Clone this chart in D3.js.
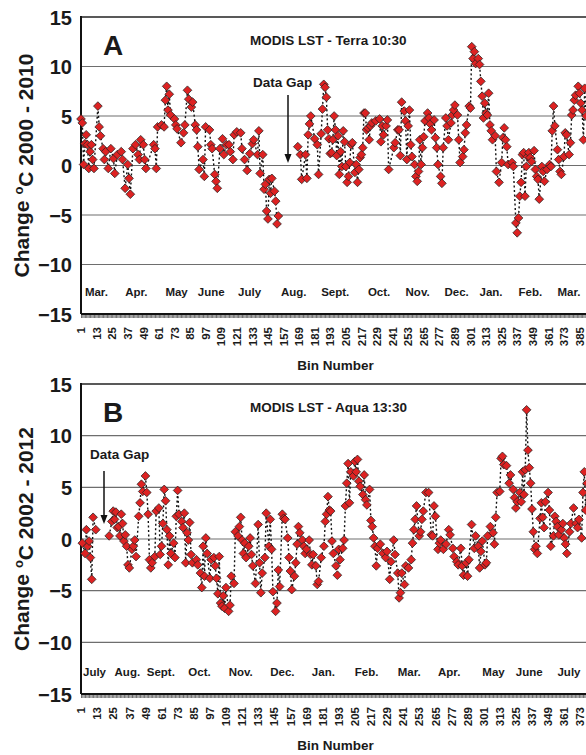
<!DOCTYPE html>
<html>
<head>
<meta charset="utf-8">
<script src="https://cdn.jsdelivr.net/npm/d3@7"></script>
<style>
  body { margin: 0; background: #fff; }
  svg text { font-family: "Liberation Sans", Arial, sans-serif; font-weight: bold; fill: #1a1a1a; }
</style>
</head>
<body>
<div id="chart"></div>
<script>
// [bin, change degC]
const terraPoints = [
  [1,4.7],[2,4.3],[3,0.1],[4,2.2],[5,3.1],[6,2.1],[7,-0.3],[8,1.4],[9,2.1],[10,0.6],[11,-0.3],
  [14,6.0],[15,3.9],[16,3.0],[18,1.7],[19,0.6],[20,1.4],[22,-0.3],[24,1.7],[26,0.7],[27,-0.8],
  [29,1.1],[32,1.4],[33,0.6],[35,-2.3],[37,0.1],[38,-1.3],[39,-2.9],[41,1.7],[43,2.1],[45,1.1],
  [46,0.6],[47,2.6],[49,2.1],[50,0.6],[51,-0.3],[57,2.1],[58,1.7],[59,-0.3],[60,3.9],[63,4.1],
  [65,3.9],[66,6.6],[67,8.0],[68,5.6],[69,7.2],[70,5.1],[73,4.7],[74,4.1],[75,3.7],[78,2.3],
  [80,3.3],[81,4.1],[83,7.6],[84,6.7],[86,5.9],[87,6.4],[89,4.1],[90,3.6],[91,1.9],[92,-0.4],
  [95,0.6],[96,-1.1],[97,3.9],[100,3.6],[101,2.1],[102,1.7],[104,-0.9],[105,-1.6],[106,-2.3],
  [108,1.7],[110,2.7],[111,1.1],[113,2.1],[115,2.1],[116,1.4],[118,0.6],[119,3.1],[121,3.4],
  [124,3.3],[125,1.7],[127,0.6],[129,-0.5],[131,1.2],[133,2.2],[134,2.6],[137,1.1],[138,3.5],
  [139,-0.8],[141,1.1],[142,-2.4],[143,-1.9],[144,-4.6],[145,-5.4],[146,-1.4],[147,-2.8],
  [148,-1.3],[150,-2.6],[151,-3.6],[152,-5.9],[153,-5.1],
  [168,1.9],[170,1.1],[171,-1.4],[174,1.1],[175,-1.3],[176,3.1],[177,4.2],[178,5.0],[181,2.7],
  [183,2.1],[184,-0.9],[186,3.2],[187,5.7],[188,8.2],[189,7.9],[190,6.9],[191,3.6],[192,2.7],
  [193,1.2],[194,1.3],[195,2.6],[196,5.0],[197,3.6],[198,1.0],[199,3.0],[200,-0.9],[201,1.4],
  [202,-0.1],[203,3.5],[204,2.4],[205,-0.1],[206,-1.7],[207,-1.1],[208,0.3],[209,2.1],[210,2.3],
  [212,-0.7],[213,0.1],[214,-1.7],[215,-0.4],[216,0.8],[217,1.1],[218,1.8],[219,5.3],[220,5.3],
  [221,3.6],[222,3.8],[223,2.6],[224,4.0],[225,4.3],[228,4.5],[231,4.7],[232,2.4],[233,4.0],
  [234,3.1],[236,4.0],[237,4.6],[238,-0.4],[242,1.8],[243,2.3],[245,3.6],[246,3.6],[247,1.0],
  [248,6.4],[250,5.5],[251,4.5],[252,0.6],[253,4.0],[254,5.6],[255,2.1],[256,0.9],[258,0.1],
  [259,-1.1],[260,-1.6],[261,-0.6],[262,2.6],[263,0.1],[264,1.8],[265,2.9],[266,4.5],[268,5.3],
  [269,4.8],[270,4.2],[271,3.6],[273,4.6],[274,2.8],[275,1.8],[276,0.1],[278,-1.1],[279,-1.8],
  [280,1.8],[282,4.8],[283,4.0],[284,2.6],[286,4.3],[287,5.1],[288,5.6],[289,6.1],[291,5.1],
  [292,2.6],[293,0.3],[295,0.9],[296,1.6],[297,3.3],[298,4.1],[300,6.0],[301,5.8],[302,12.0],
  [303,10.8],[304,11.5],[305,10.3],[307,10.8],[308,10.2],[309,8.5],[310,7.0],[311,4.8],[312,6.3],
  [313,5.3],[314,5.1],[315,7.3],[316,4.1],[317,3.5],[318,2.6],[320,3.0],[321,-0.6],[323,-1.7],
  [325,0.3],[326,2.8],[327,3.8],[328,2.6],[329,1.9],[330,0.1],[333,0.3],[334,-0.1],[336,-5.8],
  [337,-6.8],[338,-5.3],[339,-3.1],[340,-1.7],[341,1.1],[342,1.3],[343,-3.1],[344,-0.1],
  [345,0.9],[346,1.3],[347,0.8],[348,0.4],[350,1.5],[351,-0.4],[352,-1.1],[353,-1.4],[354,-3.4],
  [356,-0.1],[357,-0.6],[358,-1.6],[360,-0.4],[362,0.1],[363,-0.1],[364,3.5],[365,6.0],[366,4.0],
  [368,1.6],[369,0.6],[370,-0.6],[371,-0.9],[373,0.9],[374,3.3],[375,3.1],[377,1.1],[378,2.3],
  [379,5.1],[380,5.6],[381,6.6],[382,7.1],[384,8.0],[385,7.3],[386,6.3],[387,5.6],[388,2.6],
  [389,7.8],[390,5.0]
];

const aquaPoints = [
  [2,-0.4],[4,-1.4],[5,0.9],[6,-0.7],[7,-0.2],[8,-1.8],[9,-3.9],[10,2.1],[12,0.9],
  [22,0.3],[24,1.7],[25,2.7],[26,1.9],[27,2.6],[28,1.1],[29,1.2],[30,0.3],[31,2.4],[32,1.5],
  [33,-0.2],[34,0.4],[35,-0.7],[36,-2.5],[37,-2.8],[39,-1.0],[40,-0.7],[41,-0.1],[42,-1.7],
  [44,2.2],[45,3.5],[46,5.3],[47,4.6],[49,6.1],[50,4.5],[51,2.4],[52,-2.0],[53,-2.8],[54,-2.3],
  [56,-1.7],[57,2.7],[59,3.0],[60,-1.5],[61,-0.7],[62,1.5],[63,4.8],[64,3.7],[65,0.9],[66,-2.5],
  [67,0.3],[68,-1.4],[70,-0.4],[71,-1.8],[72,2.2],[73,4.7],[74,2.4],[76,1.7],[77,1.1],[78,2.5],
  [79,-2.3],[80,0.6],[81,-0.1],[82,1.6],[83,-1.5],[84,-2.3],[87,-2.0],[88,-2.5],[90,-3.3],
  [91,-4.7],[92,-0.7],[93,-3.6],[94,0.1],[95,-1.4],[97,-3.8],[98,-2.0],[100,-1.8],[101,-2.6],
  [102,-3.8],[103,-5.3],[104,-1.7],[105,-6.2],[106,-6.5],[107,-5.5],[108,-6.7],[109,-4.7],
  [111,-7.0],[112,-6.4],[113,-3.6],[115,-4.3],[116,0.7],[118,0.3],[119,1.2],[120,2.1],[121,-0.1],
  [122,-1.4],[123,-0.4],[124,-1.8],[126,-0.7],[127,0.1],[128,-1.5],[129,-2.6],[131,-4.3],
  [133,1.4],[134,-2.3],[135,-5.2],[136,-3.3],[138,-1.8],[139,2.5],[141,-0.7],[142,1.9],[143,-1.0],
  [144,-5.1],[146,-7.0],[147,-6.2],[148,-3.0],[149,-4.6],[151,2.4],[152,2.0],[153,1.9],[155,0.1],
  [156,-1.8],[157,-3.1],[158,-4.9],[160,-3.6],[161,-2.3],[162,-0.5],[163,1.2],[164,0.6],
  [166,-0.1],[167,-0.7],[168,-1.4],[169,-1.0],[171,-0.1],[172,-1.5],[173,-2.5],[174,-1.5],
  [176,-2.6],[177,-4.4],[178,-4.1],[180,-1.8],[182,-0.7],[183,1.7],[184,2.4],[185,4.1],[186,2.8],
  [187,2.7],[188,-0.2],[189,-1.4],[191,-2.6],[192,-3.5],[193,-1.0],[194,-2.0],[196,-0.9],
  [197,-0.1],[198,3.2],[199,5.4],[200,7.3],[201,3.5],[202,6.5],[204,6.1],[205,7.5],[206,6.5],
  [207,7.7],[208,5.6],[209,5.1],[211,4.3],[212,6.2],[213,3.8],[214,3.3],[216,4.8],[217,1.8],
  [218,1.2],[219,0.1],[220,-0.7],[221,-2.6],[222,-0.9],[224,-0.5],[226,-1.4],[228,-1.8],
  [229,-1.2],[231,-3.9],[232,-2.2],[234,-0.1],[235,-1.5],[237,-3.3],[238,-5.7],[239,-5.2],
  [240,-3.3],[242,-4.4],[243,-2.6],[245,-2.8],[247,-2.0],[248,-0.4],[249,0.9],[250,1.9],
  [251,3.2],[253,0.3],[254,0.7],[255,1.9],[256,2.7],[258,4.5],[260,4.5],[262,0.4],[263,0.3],
  [264,3.2],[265,2.2],[267,-1.0],[268,-0.4],[269,-0.1],[271,-1.0],[273,-0.5],[275,0.9],[276,0.4],
  [278,-0.9],[279,-1.7],[281,-2.2],[282,-2.5],[284,-0.9],[285,-2.6],[286,-3.5],[288,-2.3],
  [289,-3.6],[290,-2.0],[292,1.4],[294,-0.9],[295,0.3],[297,-0.7],[298,-2.8],[299,-1.2],
  [300,-0.2],[302,-2.5],[303,-2.3],[304,0.3],[306,1.2],[308,0.6],[309,-0.5],[310,2.1],[311,4.5],
  [313,4.6],[314,7.8],[315,8.0],[316,7.2],[318,7.1],[320,5.4],[321,6.2],[323,4.8],[324,4.0],
  [325,3.0],[326,3.6],[328,4.5],[329,3.6],[330,6.5],[331,4.3],[332,6.7],[333,12.5],[334,8.6],
  [335,6.9],[336,5.4],[337,2.9],[338,0.7],[339,-1.0],[340,-0.7],[341,-1.4],[343,2.0],[344,3.5],
  [345,2.1],[346,1.1],[347,3.6],[349,4.5],[350,2.8],[351,-0.7],[353,0.3],[354,2.2],[355,1.7],
  [356,1.2],[357,0.4],[359,0.9],[360,1.5],[361,0.1],[362,-0.5],[363,-1.4],[365,0.7],[366,1.5],
  [368,3.0],[370,1.5],[371,1.1],[372,1.9],[374,0.1],[375,4.5],[376,6.5],[377,2.8],[378,5.4]
];

const terraMonths = ["Mar.","Apr.","May","June","July","Aug.","Sept.","Oct.","Nov.","Dec.","Jan.","Feb.","Mar."];
const terraMonthBins = [4,35,66,91,122,155,186,222,251,281,308,338,368];
const aquaMonths = ["July","Aug.","Sept.","Oct.","Nov.","Dec.","Jan.","Feb.","Mar.","Apr.","May","June","July"];
const aquaMonthBins = [2.5,26,50,81,111,142,173,205,237,267,300,325,356];

const terraTicks = d3.range(1, 386, 12);
const aquaTicks = d3.range(1, 374, 12);
const yTicks = [15, 10, 5, 0, -5, -10, -15];

const width = 586, height = 755;
const left = 81;

const svg = d3.select("#chart").append("svg")
  .attr("width", width)
  .attr("height", height);

const panels = [
  {
    letter: "A", title: "MODIS LST - Terra 10:30", years: "2000 - 2010",
    points: terraPoints, months: terraMonths, monthBins: terraMonthBins, ticks: terraTicks,
    maxBin: 390, right: 586, top: 17, bottom: 314,
    gapText: [253, 87], gapArrow: [288, 95, 163]
  },
  {
    letter: "B", title: "MODIS LST - Aqua 13:30", years: "2002 - 2012",
    points: aquaPoints, months: aquaMonths, monthBins: aquaMonthBins, ticks: aquaTicks,
    maxBin: 378, right: 587, top: 384, bottom: 694,
    gapText: [90, 459], gapArrow: [104, 471, 524]
  }
];

panels.forEach(drawPanel);

function drawPanel(p) {
  const x = d3.scaleLinear().domain([1, p.maxBin]).range([left, p.right]);
  const y = d3.scaleLinear().domain([-15, 15]).range([p.bottom, p.top]);
  const g = svg.append("g");

  // grid lines
  g.selectAll("line.grid")
    .data(yTicks.filter(v => v > -15))
    .enter().append("line")
      .attr("class", "grid")
      .attr("x1", left).attr("x2", width)
      .attr("y1", d => y(d)).attr("y2", d => y(d))
      .attr("stroke", d => d === 15 ? "#222" : "#6e6e6e")
      .attr("stroke-width", d => d === 15 ? 1.6 : 1.1);

  // y axis
  const yAxis = g.append("g")
    .attr("transform", `translate(${left},0)`)
    .call(d3.axisLeft(y).tickValues(yTicks).tickSize(0).tickPadding(9));
  yAxis.select(".domain").remove();
  yAxis.selectAll("text").style("font-size", "20px").attr("dy", "0.36em");

  g.append("line")
    .attr("x1", left).attr("x2", left)
    .attr("y1", p.top - 1).attr("y2", p.bottom)
    .attr("stroke", "#111").attr("stroke-width", 2);

  // minor ticks, one per bin
  g.append("g")
    .attr("transform", `translate(0,${p.bottom})`)
    .call(d3.axisBottom(x).tickValues(d3.range(1, p.maxBin + 1)).tickSize(4).tickFormat(""))
    .call(a => a.selectAll(".tick line").attr("stroke", "#4a4a4a").attr("stroke-width", 0.8))
    .call(a => a.select(".domain").remove());

  g.append("line")
    .attr("x1", left).attr("x2", width)
    .attr("y1", p.bottom).attr("y2", p.bottom)
    .attr("stroke", "#111").attr("stroke-width", 2.2);

  // bin labels
  const xAxis = g.append("g")
    .attr("transform", `translate(0,${p.bottom})`)
    .call(d3.axisBottom(x).tickValues(p.ticks).tickSize(0));
  xAxis.select(".domain").remove();
  xAxis.selectAll("text")
    .attr("transform", "rotate(-90)")
    .attr("x", -13).attr("y", 0).attr("dy", "0.32em")
    .style("text-anchor", "end")
    .style("font-size", "11.5px");

  g.append("text")
    .attr("x", (left + 590) / 2).attr("y", p.bottom + 56)
    .attr("text-anchor", "middle")
    .style("font-size", "13.5px")
    .text("Bin Number");

  // month labels
  g.selectAll("text.month")
    .data(p.months)
    .enter().append("text")
      .attr("class", "month")
      .attr("x", (d, i) => x(p.monthBins[i]))
      .attr("y", p.bottom - 18)
      .style("font-size", "11.5px")
      .text(d => d);

  // y title
  const yt = g.append("text")
    .attr("transform", `translate(29,${(p.top + p.bottom) / 2}) rotate(-90)`)
    .attr("text-anchor", "middle")
    .style("font-size", "21px");
  yt.append("tspan").text("Change ");
  yt.append("tspan").attr("dy", "-0.5em").style("font-size", "13px").text("o");
  yt.append("tspan").attr("dy", "0.5em").text("C " + p.years);

  // panel letter and title
  g.append("text")
    .attr("x", 103).attr("y", p.top + 38)
    .style("font-size", "28px")
    .text(p.letter);

  g.append("text")
    .attr("x", 250).attr("y", p.top + 28)
    .style("font-size", "13.5px")
    .text(p.title);

  // data gap note
  g.append("text")
    .attr("x", p.gapText[0]).attr("y", p.gapText[1])
    .style("font-size", "13.5px")
    .text("Data Gap");
  g.append("line")
    .attr("x1", p.gapArrow[0]).attr("x2", p.gapArrow[0])
    .attr("y1", p.gapArrow[1]).attr("y2", p.gapArrow[2] - 6)
    .attr("stroke", "#111").attr("stroke-width", 1.5);
  g.append("path")
    .attr("d", `M${p.gapArrow[0] - 3.5},${p.gapArrow[2] - 9} L${p.gapArrow[0] + 3.5},${p.gapArrow[2] - 9} L${p.gapArrow[0]},${p.gapArrow[2]} Z`)
    .attr("fill", "#111");

  // dotted connecting line, broken across the data gap
  const segments = [];
  p.points.forEach((d, i) => {
    if (i === 0 || d[0] - p.points[i - 1][0] > 8) segments.push([]);
    segments[segments.length - 1].push(d);
  });
  const line = d3.line().x(d => x(d[0])).y(d => y(d[1]));
  g.selectAll("path.conn")
    .data(segments)
    .enter().append("path")
      .attr("class", "conn")
      .attr("d", line)
      .attr("fill", "none")
      .attr("stroke", "#111")
      .attr("stroke-width", 1.4)
      .attr("stroke-dasharray", "2,2.5");

  // diamonds
  const diamond = d3.symbol().type(d3.symbolSquare).size(38);
  g.selectAll("path.pt")
    .data(p.points)
    .enter().append("path")
      .attr("class", "pt")
      .attr("d", diamond)
      .attr("transform", d => `translate(${x(d[0])},${y(d[1])}) rotate(45)`)
      .attr("fill", "#dd2222")
      .attr("stroke", "#222")
      .attr("stroke-width", 0.7);
}
</script>
</body>
</html>
